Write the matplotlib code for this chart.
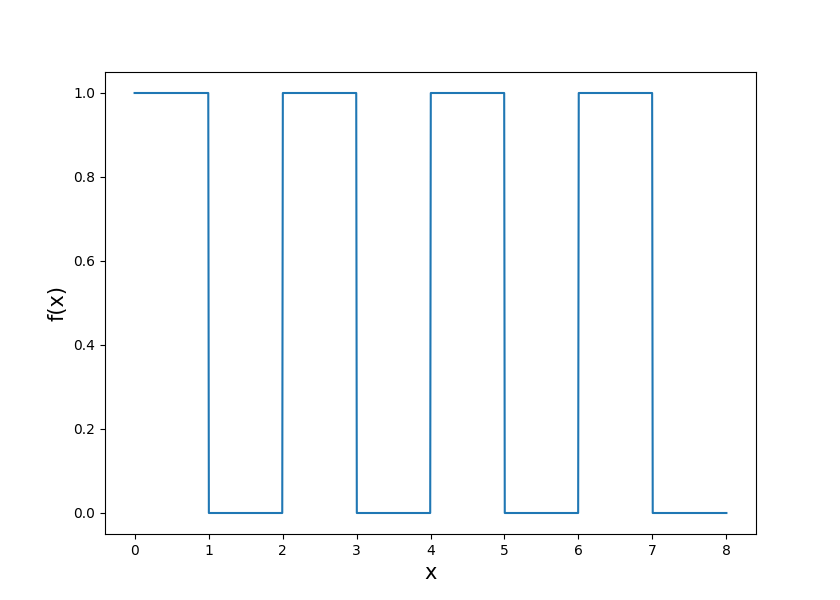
import matplotlib
matplotlib.use("Agg")
import matplotlib.pyplot as plt

# breakpoints of the square wave (x, f(x))
x_points = [0, 0.996, 1.004, 1.996, 2.004, 2.996, 3.004, 3.996, 4.004,
            4.996, 5.004, 5.996, 6.004, 6.996, 7.004, 8]
y_points = [1, 1, 0, 0, 1, 1, 0, 0, 1, 1, 0, 0, 1, 1, 0, 0]

fig, ax = plt.subplots(figsize=(8.4, 6), dpi=100)
ax.plot(x_points, y_points)
ax.set_xlabel("x", fontsize=15)
ax.set_ylabel("f(x)", fontsize=15)
fig.savefig("out.png")
